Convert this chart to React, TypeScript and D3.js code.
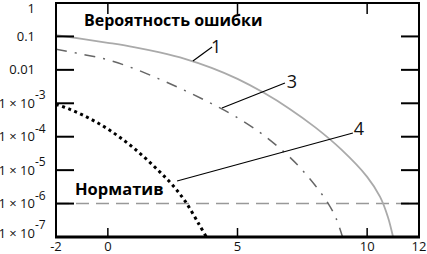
import React from "react";
import * as d3 from "d3";

const W = 427;
const H = 254;

// Curve 1 (solid light gray): x and log10(probability)
const curve1X = [-2, -1, 0, 1, 2, 3, 4, 5, 6, 7, 8, 9, 10, 10.5, 10.8, 11];
const curve1Log = [-0.96, -1.07, -1.19, -1.32, -1.48, -1.68, -1.94, -2.27, -2.68, -3.16, -3.72, -4.38, -5.2, -5.8, -6.4, -7.0];

// Curve 3 (dash-dot gray)
const curve3X = [-2, -1, 0, 1, 2, 3, 4, 5, 6, 7, 7.5, 8, 8.5, 8.8, 9.05];
const curve3Log = [-1.38, -1.53, -1.7, -1.96, -2.28, -2.63, -3.01, -3.43, -3.95, -4.6, -5.0, -5.46, -6.0, -6.44, -7.0];

// Curve 4 (black dotted)
const curve4X = [-2, -1.5, -1, -0.5, 0, 0.5, 1, 1.5, 2, 2.5, 3, 3.5, 3.8];
const curve4Log = [-3.03, -3.17, -3.34, -3.54, -3.77, -4.04, -4.34, -4.68, -5.05, -5.45, -5.95, -6.6, -7.0];

const normValue = 1e-6;

const xTicks = [-2, 0, 5, 10, 12];
const xInnerTicks = [0, 5, 10];
const yTickExps = [0, -1, -2, -3, -4, -5, -6, -7];
const yInnerTickExps = [-1, -2, -3, -4, -5, -6];

// annotation leaders (data coords, log10 for y)
const annNames = ["1", "3", "4"];
const annFrom = [[3.28, -1.735], [4.4, -3.141], [2.67, -5.325]];
const annTo = [[4.02, -1.316], [6.83, -2.393], [9.45, -3.889]];
const annOffset = [[4, 6], [7, 5], [6, 2]];

const title = "Вероятность ошибки";
const normLabel = "Норматив";

export default function App() {
  const left = 56, right = 419, top = 3, bottom = 237;
  const x = d3.scaleLinear().domain([-2, 12]).range([left, right]);
  const y = d3.scaleLog().domain([1e-7, 1]).range([bottom, top]);

  const line = d3
    .line<[number, number]>()
    .x((d) => x(d[0]))
    .y((d) => y(Math.pow(10, d[1])))
    .curve(d3.curveCatmullRom.alpha(0.5));

  const mk = (xs: number[], ls: number[]) => xs.map((v, i) => [v, ls[i]] as [number, number]);

  const font = "'Open Sans', 'DejaVu Sans', sans-serif";

  const yLabel = (e: number) => {
    const v = Math.pow(10, e);
    let py = y(v);
    py = Math.max(8, Math.min(233, py));
    if (e === 0) return (<text key={e} x={35} y={py} dy="0.35em" textAnchor="end">1</text>);
    if (e === -1) return (<text key={e} x={35} y={py} dy="0.35em" textAnchor="end">0.1</text>);
    if (e === -2) return (<text key={e} x={35} y={py} dy="0.35em" textAnchor="end">0.01</text>);
    return (
      <g key={e}>
        <text x={35} y={py} dy="0.35em" textAnchor="end">1 × 10</text>
        <text x={35} y={py - 8} dy="0.35em" textAnchor="start" fontSize={12}>{String(e)}</text>
      </g>
    );
  };

  return (
    <svg width={W} height={H} style={{ position: "absolute", left: 0, top: 0, background: "#fff" }} fontFamily={font}>
      <rect x={0} y={0} width={W} height={H} fill="#fff" />
      <defs>
        <clipPath id="plot">
          <rect x={left} y={top} width={right - left} height={bottom - top} />
        </clipPath>
      </defs>

      {/* normative line */}
      <line x1={left} x2={right} y1={y(normValue)} y2={y(normValue)} stroke="#999" strokeWidth={1.5} strokeDasharray="13,7" />

      <g clipPath="url(#plot)" fill="none">
        <path d={line(mk(curve1X, curve1Log)) || ""} stroke="#aaa" strokeWidth={1.8} />
        <path d={line(mk(curve3X, curve3Log)) || ""} stroke="#666" strokeWidth={1.5} strokeDasharray="11,8,2,8" />
        <path d={line(mk(curve4X, curve4Log)) || ""} stroke="#000" strokeWidth={3} strokeDasharray="3,3.5" />
      </g>

      {/* ticks */}
      {yInnerTickExps.map((e) => (
        <g key={e}>
          <line x1={left} x2={left + 18} y1={y(Math.pow(10, e))} y2={y(Math.pow(10, e))} stroke="#000" strokeWidth={2} />
          <line x1={right - 18} x2={right} y1={y(Math.pow(10, e))} y2={y(Math.pow(10, e))} stroke="#000" strokeWidth={2} />
        </g>
      ))}
      {xInnerTicks.map((t) => (
        <g key={t}>
          <line x1={x(t)} x2={x(t)} y1={top} y2={top + 11} stroke="#000" strokeWidth={1.5} />
          <line x1={x(t)} x2={x(t)} y1={bottom} y2={bottom - 9} stroke="#000" strokeWidth={1.5} />
        </g>
      ))}

      {/* frame */}
      <line x1={left} x2={left} y1={top} y2={bottom} stroke="#000" strokeWidth={2} />
      <line x1={right} x2={right} y1={top} y2={bottom} stroke="#000" strokeWidth={2} />
      <line x1={left - 1} x2={right + 1} y1={top} y2={top} stroke="#000" strokeWidth={2} />
      <line x1={left - 1} x2={right + 1} y1={bottom} y2={bottom} stroke="#000" strokeWidth={3} />

      {/* y labels */}
      <g fontSize={13} fill="#111">{yTickExps.map(yLabel)}</g>

      {/* x labels */}
      <g fontSize={13} fill="#111">
        {xTicks.map((t) => (
          <text key={t} x={x(t)} y={250.5} textAnchor="middle">{String(t)}</text>
        ))}
      </g>

      {/* annotations */}
      {annNames.map((n, i) => {
        const x1 = x(annFrom[i][0]), y1 = y(Math.pow(10, annFrom[i][1]));
        const x2 = x(annTo[i][0]), y2 = y(Math.pow(10, annTo[i][1]));
        return (
          <g key={n}>
            <line x1={x1} y1={y1} x2={x2} y2={y2} stroke="#000" strokeWidth={1.2} />
            <text x={x2 + annOffset[i][0]} y={y2 + annOffset[i][1]} textAnchor="middle" fontSize={18} fill="#111">{n}</text>
          </g>
        );
      })}

      <text x={84} y={26} fontSize={16} fontWeight="bold" fill="#000">{title}</text>
      <text x={75} y={195} fontSize={16.5} fontWeight="bold" fill="#000">{normLabel}</text>
    </svg>
  );
}
